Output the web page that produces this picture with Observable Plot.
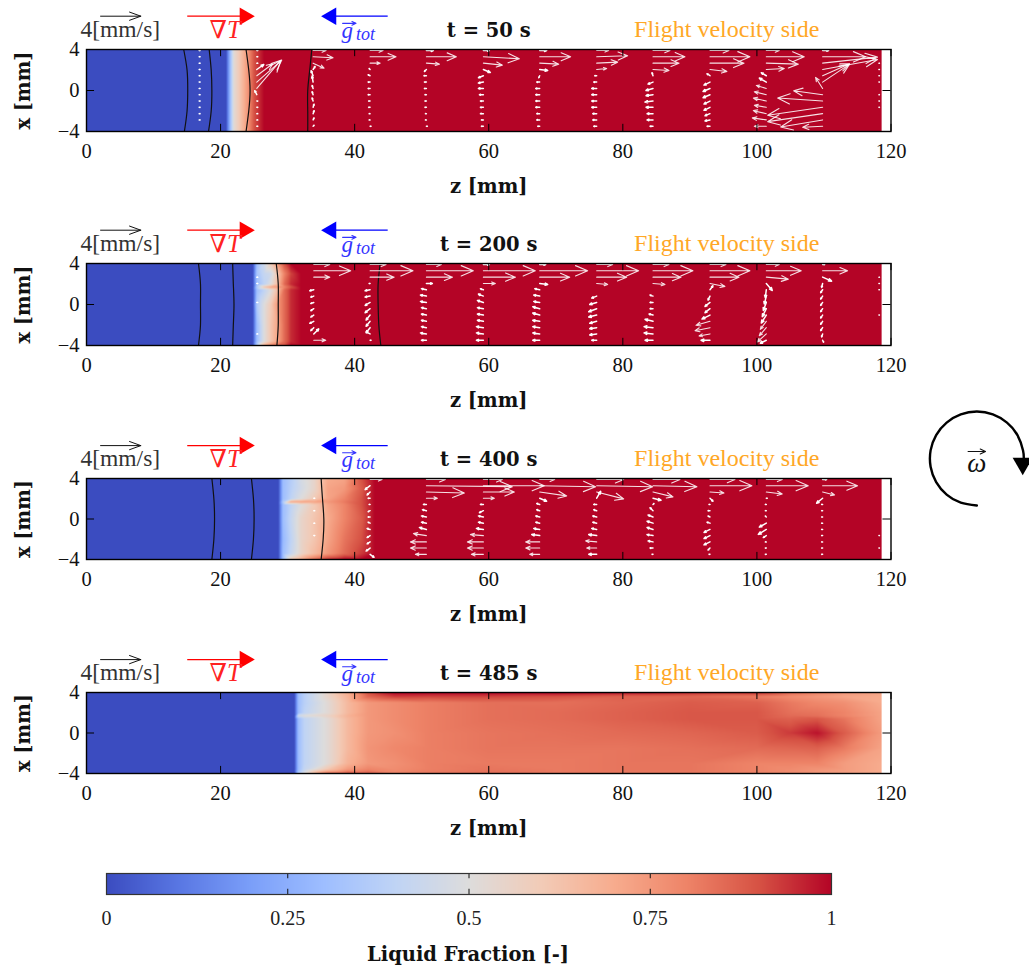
<!DOCTYPE html>
<html><head><meta charset="utf-8">
<script src="https://cdn.jsdelivr.net/npm/d3@7"></script>
<script src="https://cdn.jsdelivr.net/npm/@observablehq/plot@0.6"></script>
<style>
html,body{margin:0;padding:0;background:#fff;width:1029px;height:973px;overflow:hidden}
svg{display:block}
</style></head><body><div id="chart"></div>
<script>
const serif = "'Liberation Serif','DejaVu Serif',serif";
const boldSerif = "'DejaVu Serif','Liberation Serif',serif";
// colour bar stops
const stopValues = [0,.1,.2,.3,.4,.5,.6,.7,.8,.9,1];
const stopColors = ["#3b4cc0","#5977e3","#7b9ff9","#9ebeff","#c0d4f5","#dddcdc","#f2cbb7","#f7ac8e","#ee8468","#d65244","#b40426"];
const barTicks = [0,.25,.5,.75,1];
const zTicks = [0,20,40,60,80,100,120];
const xTicks = [-4,0,4];
const domainEnd = 118.6;
const times = [50,200,400,485];
const frameHeights = [82,82,81,81];
const panelHeights = [214,215,214,214];
const rowsX = [3.9,3.29,2.67,2.05,1.44,.82,.2,-.41,-1.03,-1.64,-2.26,-2.87,-3.49];

// liquid fraction: z knots, x knots, values per x row
const f50z = [0,20.8,21.4,22,23,24,25,26.5,118.7];
const f50x = [4,-4];
const f50v = [
 [0,0,.28,.52,.63,.75,.9,1,1],
 [0,0,.28,.52,.63,.75,.9,1,1]];
const f200z = [0,24.8,25.4,26.5,27.5,28.5,29.5,30.5,32,118.7];
const f200x = [4,3,2,1.7,1.4,0,-2,-3.6,-4];
const f200v = [
 [0,0,.3,.45,.6,.75,.9,1,1,1],
 [0,0,.33,.42,.45,.62,.8,.92,1,1],
 [0,0,.3,.4,.5,.65,.85,.95,1,1],
 [0,0,.35,.6,.7,.75,.8,.9,1,1],
 [0,0,.3,.4,.5,.65,.85,.95,1,1],
 [0,0,.35,.5,.6,.75,.85,.95,1,1],
 [0,0,.3,.5,.62,.72,.85,.95,1,1],
 [0,0,.3,.5,.62,.72,.85,.95,1,1],
 [0,0,.35,.7,.8,.85,.9,1,1,1]];
const f400z = [0,28.6,29.3,30.5,32,34,36,38.5,41,43,118.7];
const f400x = [4,3,2,1.7,1.4,0,-2,-3.4,-4];
const f400v = [
 [0,0,.3,.37,.47,.55,.7,.72,.9,1,1],
 [0,0,.3,.38,.46,.55,.72,.75,.88,1,1],
 [0,0,.3,.4,.5,.6,.72,.8,.9,1,1],
 [0,0,.35,.7,.72,.72,.75,.82,.9,1,1],
 [0,0,.3,.4,.5,.6,.72,.8,.9,1,1],
 [0,0,.3,.42,.55,.62,.7,.8,.88,1,1],
 [0,0,.28,.4,.55,.62,.72,.83,.9,1,1],
 [0,0,.3,.42,.55,.65,.75,.85,.93,1,1],
 [0,0,.3,.6,.7,.85,.95,1,1,1,1]];
const f485z = [0,31,31.6,32.5,36,39,42,46,51,60,70,80,90,100,105,109,113,118.7];
const f485x = [4,3.6,3,2,1.7,1.4,0,-1.5,-3,-3.6,-4];
const f485v = [
 [0,0,.3,.38,.55,.7,.9,1,1,1,1,.98,.95,.95,.85,.8,.75,.72],
 [0,0,.3,.38,.55,.68,.86,.93,.92,.92,.9,.87,.86,.82,.78,.75,.72,.7],
 [0,0,.3,.38,.52,.66,.75,.78,.81,.84,.84,.86,.88,.87,.82,.79,.77,.7],
 [0,0,.3,.4,.52,.66,.75,.78,.81,.84,.85,.87,.89,.89,.84,.83,.8,.72],
 [0,0,.45,.5,.56,.68,.75,.78,.81,.84,.85,.87,.89,.89,.85,.84,.8,.72],
 [0,0,.3,.4,.52,.66,.75,.78,.81,.84,.85,.87,.89,.89,.87,.89,.83,.72],
 [0,0,.3,.4,.52,.66,.75,.77,.81,.83,.84,.85,.86,.88,.93,.98,.88,.74],
 [0,0,.3,.4,.52,.66,.76,.79,.81,.83,.83,.83,.84,.85,.86,.87,.82,.72],
 [0,0,.3,.4,.52,.68,.75,.77,.81,.82,.82,.83,.83,.8,.8,.8,.74,.7],
 [0,0,.3,.42,.62,.75,.8,.78,.81,.83,.82,.83,.83,.8,.78,.76,.74,.7],
 [0,0,.35,.5,.85,.9,.88,.8,.82,.84,.82,.82,.82,.8,.78,.75,.73,.7]];

// black contour lines: z position at each x level
const contourX = [4,2,0,-2,-4];
const c50 = [[14.5,15,15.1,15,14.6],[18.3,18.6,18.7,18.6,18.2],[23.8,24.2,24.4,24.2,23.8],[33.6,33.3,33,33,33]];
const c200 = [[16.7,17,17,17,16.7],[21.8,21.9,22,21.9,21.8],[28.3,28.6,28.6,28.6,28.4],[43.8,43.5,43.5,43.6,43.9]];
const c400 = [[18.7,19,19.1,19,18.7],[24.6,24.9,25,24.9,24.6],[35,35.2,35.4,35.3,35]];

// velocity sample columns: u (along z) and w (along x) in mm/s, rows top to bottom
const v50z = [16.8,25.4,33.8,42.3,50.7,59.2,67.6,76.1,84.5,93,101.4,109.8,118.2];
const v50u = [
 [.1,.1,.1,.1,.1,.1,.1,.1,.1,.1,.1,.1,null],
 [.1,.1,.1,.7,1.6,2.5,2.4,-.2,.1,.1,.1,.1,.1],
 [1.3,2,1.1,.2,-.2,-.1,-.1,-.1,-.1,.1,.1,.1,.1],
 [1.3,2.6,1,-.1,-.2,-.2,-.2,-.2,-.15,-.15,-.1,-.1,.1],
 [.7,3,1.3,-.2,-.25,-.2,-.2,-.15,-.15,-.15,-.1,-.1,.1],
 [.6,3.6,1.9,.7,-.5,-.5,-.5,-.4,-.3,-.3,-.3,-.2,-.2],
 [.7,3.1,1.9,.8,-.1,-.3,-.4,-.4,-.4,-.4,-.3,-.3,-.2],
 [1.2,3.1,2.1,1,-.2,-.3,-.5,-.5,-.5,-.5,-.4,-.4,-.3],
 [1.7,3.2,2.6,1.6,-.1,-.5,-.7,-.7,-.8,-.7,-.6,-.6,-.3],
 [1.9,4,3.4,1.7,-.3,-.6,-.7,-.7,-.6,-.6,-.5,-.5,-.3],
 [1.3,3.8,3.2,1.8,-.5,-.7,-1,-1.2,-1.3,-1.2,-1.3,-1.4,-1.2],
 [.6,4.3,5.5,5.5,2.7,2.7,-.7,-2.9,-4.5,-5.5,-5.5,-4.2,-2],
 [null,null,.05,.05,.05,.05,null,.05,.05,.05,null,null,null]];
const v50w = [
 [0,0,0,0,0,0,0,0,0,0,0,0,0],
 [0,0,0,.5,1.2,2.2,2.8,.4,0,0,0,0,0],
 [0,-.1,-.5,.3,.5,.6,.3,.3,.3,.3,.3,.2,.1],
 [0,0,0,.1,.1,0,0,0,0,0,0,0,0],
 [0,0,-.1,-.2,0,0,0,0,0,0,0,0,0],
 [0,-.2,-.2,-.3,-.2,-.1,0,0,0,0,0,0,0],
 [0,0,-.1,-.1,-.2,0,0,0,0,0,0,0,0],
 [0,.1,.1,.1,0,0,0,0,0,0,0,0,0],
 [0,0,0,-.1,.3,-.2,-.2,-.1,-.1,0,0,0,0],
 [0,0,0,-.2,.2,-.3,-.3,-.3,-.3,-.3,-.2,-.1,0],
 [0,0,-.1,.1,.3,.4,.3,.3,.3,.2,.3,.2,0],
 [0,0,.6,1,1.2,1.8,1.1,.4,.3,-.8,-.8,-.7,-.1],
 [0,0,0,0,0,0,0,0,0,0,0,0,0]];

const v200z = [25.4,33.9,42.3,50.7,59.2,67.6,76.1,84.5,93,101.4,109.8,118.2];
const v200u = [
 [null,null,.1,.1,null,null,.1,null,null,null,null,.1,null],
 [1.6,3.7,1.6,null,-.4,-.3,-.3,-.3,-.3,-.4,-.3,.5,1.2],
 [1.6,4.3,2.4,-.1,-.5,-.5,-.5,-.5,-.4,-.4,-.4,-.4,.1],
 [1.5,4.7,2.6,.6,-.5,-.6,-.6,-.5,-.5,-.5,-.5,-.6,-.5],
 [.6,5.2,3.2,1.2,-.3,-.5,-.6,-.6,-.6,-.6,-.7,-.7,-.7],
 [.6,4.8,3,.8,-.5,-.6,-.6,-.7,-.7,-.7,-.7,-.7,-.7],
 [1.6,4.2,3,1.1,0,-.5,-.7,-.8,-.8,-.7,-.7,-.7,-.5],
 [1.6,4,2.8,1.2,0,-.3,-.3,-.3,-.4,-.8,-.9,-.9,-.8],
 [1.6,4,2.9,1.5,.3,-.2,-.5,-.5,-.8,-1.4,-1.5,-1.1,-.9],
 [1.3,3.5,2.2,.6,-.1,-.2,-.3,-.4,-.5,-.6,-.7,-.9,-.6],
 [.2,2.5,.9,-.1,-.2,-.2,-.2,-.2,-.2,-.2,-.2,-.1,.1],
 [null,null,.05,.05,.05,null,null,null,.05,null,null,null,null]];
const v200w = [
 [0,0,0,0,0,0,0,0,0,0,0,0,0],
 [0,0,0,0,-.1,-.1,-.1,-.2,-.2,-.2,-.3,.5,0],
 [0,0,0,0,-.1,-.1,-.3,-.4,-.5,-.5,-.5,.2,0],
 [0,0,0,0,.1,.1,.1,.1,.1,.1,.1,.1,0],
 [0,0,0,0,.1,.2,.2,.1,.1,.1,.1,.1,0],
 [0,0,0,-.1,.1,.1,.1,.2,.2,.1,.1,.1,0],
 [0,0,0,-.1,0,-.2,-.2,-.3,-.2,-.2,-.1,-.1,0],
 [0,0,0,-.1,0,.1,0,0,.1,.2,.1,.1,0],
 [0,0,0,-.3,.4,-.4,-.4,-.4,-.4,-.4,-.3,-.2,0],
 [0,0,-.2,-.7,-.8,-.8,-.8,-.8,-.8,-.8,-.8,-.8,-.3],
 [0,0,-.4,-.4,-.3,-.3,-.3,-.3,-.3,-.3,-.3,-.3,-.2],
 [0,0,0,0,0,0,0,0,0,0,0,0,0]];

const v400z = [33.9,42.3,50.7,59.2,67.6,76.1,84.5,93,101.4,109.8,118.2];
const v400u = [
 [null,null,null,.1,null,.1,null,.1,null,.1,null,null,null],
 [1.2,-.5,-.3,-.2,-.1,-.2,-.2,-.2,-.3,-.3,-.3,-.4,.4],
 [1.9,8.6,3.8,1.1,-.3,-.4,-.5,-.5,-.7,-1.3,-1.6,-1.6,-1.1],
 [1.9,6.1,3.1,1.1,-.3,-.4,-.5,-.5,-.7,-1.3,-1.6,-1.6,-1.2],
 [1.5,5.6,2.7,.7,-.3,-.3,-.4,-.4,-.6,-.8,-1.4,-1.4,-1],
 [2.7,5.6,2.7,.4,-.3,-.3,-.4,-.4,-.5,-.8,-1.1,-1,-.8],
 [2.7,4.4,2,.8,.1,-.3,-.5,-.6,-.6,-.6,-.5,-.3,-.1],
 [2.5,4.2,1.4,.3,-.1,-.2,-.2,-.3,-.6,-.6,-.6,-.2,-.1],
 [1.6,4.2,1.6,.1,-.1,-.1,-.1,-.7,-.8,-.3,-.1,-.1,-.1],
 [.4,3.5,1.2,-.6,-.1,-.1,-.1,-.1,-.1,-.1,-.1,-.1,-.1],
 [null,null,null,null,null,null,null,null,null,.05,null,.05,null]];
const v400w = [
 [0,0,0,0,0,0,0,0,0,0,0,0,0],
 [0,-.4,-.3,0,0,-.1,0,.1,.1,-.2,-.2,-.3,-.3],
 [0,-.1,-.1,0,0,.1,.1,.1,.2,.2,0,0,0],
 [0,0,0,0,0,-.2,.1,.1,.1,.1,0,0,0],
 [0,-.1,-.4,-.3,.1,.1,.1,.1,.1,.1,0,0,0],
 [0,-.1,-.7,.7,0,.1,.1,.1,.1,.1,.1,0,0],
 [0,-.1,-.5,-.2,.1,.3,.2,.2,.2,.1,.1,0,0],
 [0,0,-.1,-.3,0,0,.1,.1,-.3,-.3,-.3,-.2,0],
 [0,0,-.2,0,0,0,.1,-.4,-.5,-.2,0,0,0],
 [0,0,-.3,-.5,0,0,0,0,0,0,0,0,0],
 [0,0,0,0,0,0,0,0,0,0,0,0,0]];

// screen scale of velocity glyphs (mm on the axis per mm/s)
const kZ = 1.49, kX = .976;

const colorScale = {type:"linear", domain:stopValues, range:stopColors};
const fieldPoints = (zs,xs,vs) => xs.flatMap((x,i)=>zs.map((z,j)=>({z,x,v:vs[i][j]})));
const arrowsOf = (zs,us,ws) => zs.flatMap((z,c)=>rowsX.map((x,r)=>({z,x,u:us[c][r],w:ws[c][r]}))).filter(d=>d.u!=null);
const contoursOf = cs => cs.flatMap((c,i)=>c.map((z,j)=>({id:i,z,x:contourX[j]})));
const speed = d => Math.hypot(d.u,d.w);

const panels = [
 {f:[f50z,f50x,f50v], c:c50, a:[v50z,v50u,v50w]},
 {f:[f200z,f200x,f200v], c:c200, a:[v200z,v200u,v200w]},
 {f:[f400z,f400x,f400v], c:c400, a:[v400z,v400u,v400w]},
 {f:[f485z,f485x,f485v], c:[], a:null}
];

const root = document.getElementById("chart");
const textBase = {fontFamily:serif, textAnchor:"middle"};
const boldBase = {fontFamily:boldSerif, textAnchor:"middle", fontWeight:"bold", fill:"#111", fontSize:19.5, letterSpacing:".4px"};
panels.forEach((p,i)=>{
  const marks = [
    Plot.raster(fieldPoints(...p.f),{x:"z",y:"x",fill:"v",x1:0,x2:domainEnd,y1:-4,y2:4,interpolate:"barycentric",pixelSize:1}),
    Plot.line(contoursOf(p.c),{x:"z",y:"x",z:"id",stroke:"#111",strokeWidth:1.2,curve:"natural"}),
  ];
  if(p.a){
    const all = arrowsOf(...p.a);
    const arrowOpts = {x1:"z",y1:"x",x2:d=>d.z+d.u*kZ,y2:d=>d.x+d.w*kX,stroke:"#fff",strokeLinecap:"round",headAngle:46};
    marks.push(
      Plot.arrow(all.filter(d=>speed(d)>=1),{...arrowOpts,strokeWidth:1.1,headLength:18,strokeOpacity:.88}),
      Plot.arrow(all.filter(d=>speed(d)<1),{...arrowOpts,strokeWidth:1.5,headLength:8})
    );
  }
  marks.push(
    Plot.ruleX(zTicks,{y1:-4,y2:-3.3,stroke:"#000",strokeWidth:1}),
    Plot.ruleX(zTicks,{y1:3.3,y2:4,stroke:"#000",strokeWidth:1}),
    Plot.ruleY(xTicks,{x1:0,x2:1.2,stroke:"#000",strokeWidth:1}),
    Plot.ruleY(xTicks,{x1:118.8,x2:120,stroke:"#000",strokeWidth:1}),
    Plot.frame({stroke:"#000",strokeWidth:1.4}),
    Plot.axisX({ticks:zTicks,tickSize:0,tickPadding:12,label:null,fontSize:20.5,fontFamily:serif,fill:"#111"}),
    Plot.axisY({ticks:xTicks,tickSize:0,tickPadding:7,label:null,fontSize:20.5,fontFamily:serif,fill:"#111"}),
    Plot.text(["z [mm]"],{...boldBase,x:60,y:-4,dy:55,text:d=>d}),
    Plot.text(["x [mm]"],{...boldBase,x:0,y:0,dx:-63,rotate:-90,text:d=>d}),
    // header
    Plot.text(["4[mm/s]"],{fontFamily:serif,textAnchor:"start",x:-.9,y:4,dy:-20,text:d=>d,fontSize:23.5,fill:"#333",letterSpacing:"1.2px"}),
    Plot.arrow([[2.1,8.1]],{x1:d=>d[0],x2:d=>d[1],y1:7.25,y2:7.25,stroke:"#111",strokeWidth:1,headLength:18,headAngle:40}),
    Plot.ruleY([7.25],{x1:15.1,x2:23,stroke:"#f00",strokeWidth:1.2}),
    Plot.dot([[23.6,7.25]],{x:d=>d[0],y:d=>d[1],symbol:"triangle",rotate:90,r:6.5,fill:"#f00",stroke:"none"}),
    Plot.text(["∇T"],{...textBase,x:20.7,y:4,dy:-20,text:d=>d,fontSize:25,fontStyle:"italic",fill:"#f22"}),
    Plot.ruleY([7.25],{x1:37,x2:45,stroke:"#00f",strokeWidth:1.2}),
    Plot.dot([[36.5,7.25]],{x:d=>d[0],y:d=>d[1],symbol:"triangle",rotate:-90,r:6.5,fill:"#00f",stroke:"none"}),
    Plot.text(["g"],{...textBase,x:38.9,y:4,dy:-19,text:d=>d,fontSize:23,fontStyle:"italic",fill:"#33f"}),
    Plot.arrow([[38.2,40.2]],{x1:d=>d[0],x2:d=>d[1],y1:6.55,y2:6.55,stroke:"#33f",strokeWidth:1.1,headLength:9,headAngle:50}),
    Plot.text(["tot"],{...textBase,x:41.6,y:4,dy:-15,text:d=>d,fontSize:18,fontStyle:"italic",fill:"#33f"}),
    Plot.text([`t = ${times[i]} s`],{...boldBase,x:60,y:4,dy:-19,text:d=>d,fill:"#111",whiteSpace:"pre",wordSpacing:"3px"}),
    Plot.text(["Flight velocity side"],{...textBase,x:95.5,y:4,dy:-20,text:d=>d,fontSize:24,fill:"#ffa726",letterSpacing:"1.6px"})
  );
  if(i===2){
    // rotation symbol
    const cz=132.8, cx=5.97, rz=7.0, rx=4.64;
    const arcDeg=[180,200,220,240,260,280,300,320,340,360,380,400,420,440,450];
    marks.push(
      Plot.line(arcDeg,{x:d=>cz+rz*Math.sin(d*Math.PI/180), y:d=>cx+rx*Math.cos(d*Math.PI/180),stroke:"#000",strokeWidth:2.4,curve:"natural"}),
      Plot.dot([[cz+6.85,cx-.49]],{x:d=>d[0],y:d=>d[1],symbol:"triangle",rotate:180,r:7.5,fill:"#000",stroke:"none"}),
      Plot.text(["ω"],{...textBase,x:cz,y:cx,dy:5,text:d=>d,fontSize:27,fontStyle:"italic",fill:"#111"}),
      Plot.arrow([[cz-1.3,cz+1.3]],{x1:d=>d[0],x2:d=>d[1],y1:cx+.7,y2:cx+.7,stroke:"#111",strokeWidth:1.1,headLength:9,headAngle:50})
    );
  }
  root.appendChild(Plot.plot({
    width:1029,height:panelHeights[i],marginTop:49,marginLeft:86,marginRight:138.5,
    marginBottom:panelHeights[i]-49-frameHeights[i],
    x:{domain:[0,120]},y:{domain:[-4,4]},color:colorScale,
    style:{fontFamily:serif,overflow:"visible",background:"transparent"},
    marks
  }));
});

// colour bar
root.appendChild(Plot.plot({
  width:1029,height:116,marginTop:16,marginLeft:106,marginRight:198,marginBottom:79,
  x:{domain:[0,1]},y:{domain:[0,1],axis:null},color:colorScale,
  style:{fontFamily:serif,overflow:"visible",background:"transparent"},
  marks:[
    Plot.raster({fill:(x,y)=>x,x1:0,x2:1,y1:0,y2:1,pixelSize:1}),
    Plot.ruleX(barTicks,{y1:0,y2:.25,stroke:"#111",strokeWidth:1}),
    Plot.ruleX(barTicks,{y1:.75,y2:1,stroke:"#111",strokeWidth:1}),
    Plot.frame({stroke:"#333",strokeWidth:1.2}),
    Plot.axisX({ticks:barTicks,tickFormat:d=>String(d),tickSize:0,tickPadding:16,label:null,fontSize:20,fontFamily:serif,fill:"#222",letterSpacing:".4px"}),
    Plot.text(["Liquid Fraction [-]"],{...boldBase,x:.5,y:0,dy:60,dx:-1,text:d=>d})
  ]
}));
</script></body></html>
